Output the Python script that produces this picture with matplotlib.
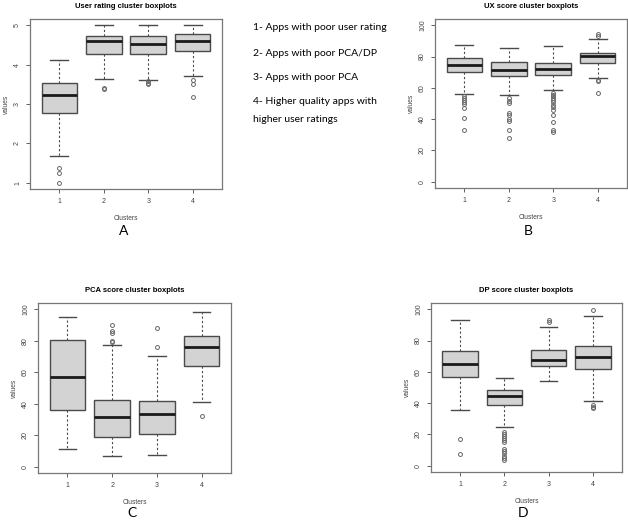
import matplotlib.pyplot as plt

W, H = 628, 521
clusters = [1, 2, 3, 4]

# five-number summaries per cluster: (whislo, q1, med, q3, whishi)
rating_stats = [(1.67, 2.77, 3.22, 3.54, 4.12), (3.63, 4.28, 4.59, 4.74, 5.0),
                (3.62, 4.28, 4.53, 4.74, 5.0), (3.71, 4.35, 4.59, 4.77, 5.0)]
rating_fliers = [[1.37, 1.25, 1.0], [3.38, 3.40], [3.58, 3.53, 3.50], [3.61, 3.51, 3.19]]

ux_stats = [(55.8, 70.0, 74.8, 79.3, 87.7), (55.2, 67.4, 71.7, 76.7, 85.2),
            (58.8, 68.5, 72.3, 75.7, 86.9), (66.4, 76.1, 80.1, 82.5, 91.5)]
ux_fliers = [[54.5, 53.5, 52.4, 51.2, 50.0, 47.1, 40.8, 32.8],
             [53.3, 51.8, 50.3, 44.0, 42.9, 40.2, 38.5, 32.8, 27.9],
             [56.7, 55.6, 54.5, 53.3, 52.0, 50.7, 49.3, 47.8, 46.1, 42.9, 38.1, 32.8, 32.1],
             [94.5, 93.2, 65.1, 64.5, 56.7]]

pca_stats = [(11.2, 36.2, 56.8, 80.3, 95.3), (6.8, 18.6, 31.4, 42.2, 77.5),
             (7.4, 21.0, 33.5, 41.5, 70.6), (40.9, 63.8, 76.1, 82.8, 98.3)]
pca_fliers = [[], [90.3, 86.2, 85.2, 79.9, 79.2], [88.1, 76.1], [32.4]]

dp_stats = [(35.5, 57.0, 65.1, 73.2, 93.2), (24.7, 38.7, 44.5, 48.7, 56.0),
            (54.3, 63.6, 67.7, 73.8, 88.9), (41.5, 62.1, 69.8, 76.6, 96.0)]
dp_fliers = [[17.2, 7.4],
             [21.3, 20.2, 19.1, 17.7, 16.4, 15.3, 10.9, 9.6, 8.1, 6.4, 4.9, 3.8],
             [93.2, 91.7], [99.6, 38.7, 37.7, 36.6]]

legend_lines = ["1- Apps with poor user rating", "2- Apps with poor PCA/DP",
                "3- Apps with poor PCA", "4- Higher quality apps with", "higher user ratings"]

plt.rcParams['font.family'] = ['Liberation Sans', 'DejaVu Sans']

fig = plt.figure(figsize=(W / 100, H / 100), dpi=100)


def px_axes(l, t, r, b):
    return fig.add_axes([l / W, 1 - b / H, (r - l) / W, (b - t) / H])


def panel(rect, stats, fliers, title, ylim, yticks, letter, letter_xy):
    ax = px_axes(*rect)
    data = []
    for s, f in zip(stats, fliers):
        data.append(dict(whislo=s[0], q1=s[1], med=s[2], q3=s[3], whishi=s[4], fliers=f))
    ax.bxp(data, positions=clusters, widths=0.8, patch_artist=True,
           boxprops=dict(facecolor='#d3d3d3', edgecolor='#4a4a4a', lw=1),
           medianprops=dict(color='#1a1a1a', lw=2),
           whiskerprops=dict(color='#4a4a4a', lw=0.8, ls=(0, (2, 2))),
           capprops=dict(color='#4a4a4a', lw=1), capwidths=0.4,
           flierprops=dict(marker='o', mfc='none', mec='#666666', ms=2.8, mew=0.7))
    ax.set_xlim(0.34, 4.66)
    ax.set_ylim(*ylim)
    ax.set_yticks(yticks)
    ax.set_yticklabels([str(v) for v in yticks], rotation=90, va='center')
    ax.set_xticks(clusters)
    ax.tick_params(labelsize=5, colors='#444444', length=3, width=0.6)
    for sp in ax.spines.values():
        sp.set_color('#777777')
        sp.set_linewidth(0.9)
    ax.set_title(title, fontsize=5.5, fontweight='bold', pad=8)
    ax.set_xlabel('Clusters', fontsize=4.8, color='#444444', labelpad=7)
    ax.set_ylabel('values', fontsize=4.8, color='#444444', labelpad=3)
    fig.text(letter_xy[0] / W, 1 - letter_xy[1] / H, letter, fontsize=10,
             family='Lato', ha='center', va='center')
    return ax


panel((30, 19, 222, 189), rating_stats, rating_fliers, 'User rating cluster boxplots',
      (0.84, 5.16), [1, 2, 3, 4, 5], 'A', (124, 231))
panel((435, 19, 627, 188), ux_stats, ux_fliers, 'UX score cluster boxplots',
      (-4, 104), [0, 20, 40, 60, 80, 100], 'B', (528, 231))
panel((38, 303, 231, 473), pca_stats, pca_fliers, 'PCA score cluster boxplots',
      (-4, 104), [0, 20, 40, 60, 80, 100], 'C', (132, 513))
panel((431, 303, 622, 472), dp_stats, dp_fliers, 'DP score cluster boxplots',
      (-4, 104), [0, 20, 40, 60, 80, 100], 'D', (523, 513))

legend_y = [28, 53, 77, 102, 119]
for txt, y in zip(legend_lines, legend_y):
    fig.text(253 / W, 1 - y / H, txt, fontsize=7.5, family='Lato', va='center', ha='left')

fig.savefig('out.png', dpi=100)
